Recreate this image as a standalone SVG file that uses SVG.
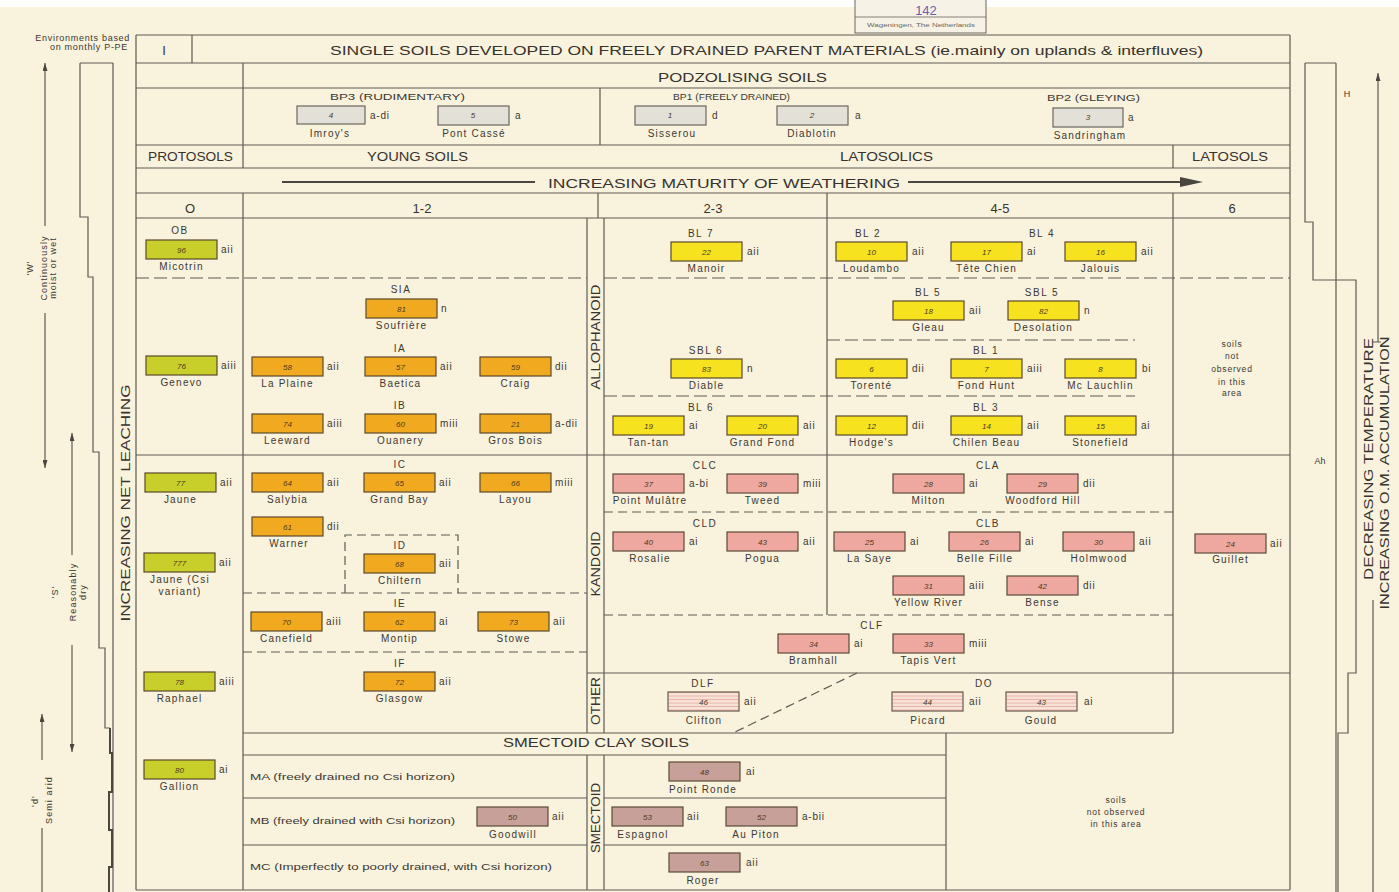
<svg xmlns="http://www.w3.org/2000/svg" width="1399" height="892" viewBox="0 0 1399 892">
<style>
.ln{stroke:#5e5a53;stroke-width:1.2;fill:none}
.th{stroke:#4a4640;stroke-width:2;fill:none}
.ds{stroke:#5e5a53;stroke-width:1.2;fill:none;stroke-dasharray:13 5}
.ds2{stroke:#5e5a53;stroke-width:1.2;fill:none;stroke-dasharray:9 5}
.t{font-family:"Liberation Sans",Arial,sans-serif;fill:#3c3833}
.hd{font-family:"Liberation Sans",Arial,sans-serif;fill:#37332e;font-size:13px}
.mid{text-anchor:middle}
.nm{font-family:"Liberation Sans",Arial,sans-serif;fill:#3c3833;font-size:10px;letter-spacing:1.2px;text-anchor:middle}
.gr{font-family:"Liberation Sans",Arial,sans-serif;fill:#3c3833;font-size:10px;letter-spacing:0.8px}
.gl{font-family:"Liberation Sans",Arial,sans-serif;fill:#3c3833;font-size:10px;letter-spacing:1.5px;text-anchor:middle}
.nb{font-family:"Liberation Sans",Arial,sans-serif;fill:#4a3a22;font-size:8px;font-style:italic;text-anchor:middle}
.sm{font-family:"Liberation Sans",Arial,sans-serif;fill:#3c3833;font-size:8.5px;letter-spacing:0.8px}
.sn{font-family:"Liberation Sans",Arial,sans-serif;fill:#3c3833;font-size:9px;letter-spacing:1.1px;text-anchor:middle}
.bo{fill:#c8cf2a;stroke:#5a4a2a;stroke-width:1.2}
.bor{fill:#f1aa20;stroke:#5a4a2a;stroke-width:1.2}
.by{fill:#f7e21f;stroke:#5a4a2a;stroke-width:1.2}
.bk{fill:#efa8a0;stroke:#5a4a3a;stroke-width:1.2}
.bs{fill:#c7a09a;stroke:#5a4a3a;stroke-width:1.2}
.bp{fill:#e3e0d8;stroke:#6a665e;stroke-width:1.2}
.bt{fill:url(#stripe);stroke:#6a5a50;stroke-width:1.2}
</style>
<defs>
<pattern id="stripe" width="6" height="3.5" patternUnits="userSpaceOnUse">
<rect width="6" height="3.5" fill="#f8e2d8"/>
<line x1="0" y1="3" x2="6" y2="3" stroke="#e3a598" stroke-width="0.8"/>
</pattern>
<marker id="ah" viewBox="0 0 8 5" refX="8" refY="2.5" markerWidth="8" markerHeight="5" orient="auto" markerUnits="userSpaceOnUse">
<path d="M0,0 L8,2.5 L0,5 z" fill="#4a4640"/>
</marker>
</defs>
<rect width="1399" height="892" fill="#f9f2dc"/>
<rect width="1399" height="7" fill="#ffffff"/>

<g id="stamp">
<rect x="855" y="-2" width="131" height="35" fill="#f7f2e6" stroke="#6a665e" stroke-width="1"/>
<line x1="855" y1="17" x2="986" y2="17" stroke="#6a665e" stroke-width="0.8"/>
<text x="926" y="15" font-family="Liberation Sans,Arial,sans-serif" font-size="13" fill="#6a5fb0" text-anchor="middle">142</text>
<text x="867" y="27" font-family="Liberation Sans,Arial,sans-serif" font-size="6" fill="#6a665e" textLength="108" lengthAdjust="spacingAndGlyphs">Wageningen, The Netherlands</text>
</g>

<g id="frame">
<path class="ln" d="M136,35 H1290 M136,63 H1290 M136,88 H1290 M136,145 H1290 M136,168 H1290 M136,193 H1290 M136,218 H1290 M136,455 H1290 M136,890 H1290"/>
<path class="ln" d="M136,35 V890 M1290,35 V890 M192,35 V63 M243,63 V168 M243,193 V890 M600,88 V145 M1173,145 V168 M1173,193 V733 M598,193 V218 M827,193 V615"/>
<path class="ln" d="M587,218 V733 M604,218 V733 M587,755 V890 M604,755 V890"/>
<path class="ln" d="M587,673 H1290 M243,733 H1173 M243,755 H946 M243,798 H587 M604,798 H946 M243,845 H587 M604,845 H946 M946,733 V890"/>
</g>

<g id="partitions">
<path class="ds" d="M136,278 H587 M604,278 H1290 M827,340 H1135 M604,396 H1135"/>
<path class="ds2" d="M604,512 H1173 M604,615 H1173 M243,593 H345 M458,593 H587 M243,652 H587"/>
<path class="ds2" d="M345,593 V535 H458 V593 M345,593 H458"/>
<path class="ds2" d="M857,673 L733,733"/>
</g>

<g id="headers">
<text class="hd" x="164" y="55" font-size="14" text-anchor="middle">I</text>
<text class="hd" x="330" y="55" font-size="16" textLength="873" lengthAdjust="spacingAndGlyphs">SINGLE SOILS DEVELOPED ON FREELY DRAINED PARENT MATERIALS (ie.mainly on uplands &amp; interfluves)</text>
<text class="hd" x="658" y="82" textLength="169" lengthAdjust="spacingAndGlyphs">PODZOLISING  SOILS</text>
<text class="t" x="330" y="100" font-size="9" textLength="135" lengthAdjust="spacingAndGlyphs">BP3 (RUDIMENTARY)</text>
<text class="t" x="673" y="100" font-size="9" textLength="117" lengthAdjust="spacingAndGlyphs">BP1 (FREELY DRAINED)</text>
<text class="t" x="1047" y="101" font-size="9" textLength="93" lengthAdjust="spacingAndGlyphs">BP2 (GLEYING)</text>
<text class="hd" x="148" y="161" textLength="85" lengthAdjust="spacingAndGlyphs">PROTOSOLS</text>
<text class="hd" x="367" y="161" textLength="101" lengthAdjust="spacingAndGlyphs">YOUNG SOILS</text>
<text class="hd" x="840" y="161" textLength="93" lengthAdjust="spacingAndGlyphs">LATOSOLICS</text>
<text class="hd" x="1192" y="161" textLength="76" lengthAdjust="spacingAndGlyphs">LATOSOLS</text>
<text class="hd" x="548" y="188" font-size="14" textLength="352" lengthAdjust="spacingAndGlyphs">INCREASING  MATURITY  OF  WEATHERING</text>
<text class="hd mid" x="190" y="213">O</text>
<text class="hd mid" x="422" y="213">1-2</text>
<text class="hd mid" x="713" y="213">2-3</text>
<text class="hd mid" x="1000" y="213">4-5</text>
<text class="hd mid" x="1232" y="213">6</text>
<text class="hd mid" transform="translate(600,337) rotate(-90)" font-size="11" textLength="105" lengthAdjust="spacingAndGlyphs">ALLOPHANOID</text>
<text class="hd mid" transform="translate(600,564) rotate(-90)" font-size="11" textLength="65" lengthAdjust="spacingAndGlyphs">KANDOID</text>
<text class="hd mid" transform="translate(600,701) rotate(-90)" font-size="11" textLength="48" lengthAdjust="spacingAndGlyphs">OTHER</text>
<text class="hd mid" transform="translate(600,818) rotate(-90)" font-size="11" textLength="70" lengthAdjust="spacingAndGlyphs">SMECTOID</text>
<text class="hd mid" x="596" y="747" textLength="186" lengthAdjust="spacingAndGlyphs">SMECTOID  CLAY  SOILS</text>
<text class="t" x="250" y="780" font-size="9.5" textLength="205" lengthAdjust="spacingAndGlyphs">MA (freely drained no Csi horizon)</text>
<text class="t" x="250" y="824" font-size="9.5" textLength="205" lengthAdjust="spacingAndGlyphs">MB (freely drained with Csi horizon)</text>
<text class="t" x="250" y="870" font-size="9.5" textLength="302" lengthAdjust="spacingAndGlyphs">MC (Imperfectly to poorly drained, with Csi horizon)</text>
<text class="sm mid" x="1232" y="347">soils</text>
<text class="sm mid" x="1232" y="359">not</text>
<text class="sm mid" x="1232" y="372">observed</text>
<text class="sm mid" x="1232" y="385">in this</text>
<text class="sm mid" x="1232" y="396">area</text>
<text class="sm mid" x="1116" y="803">soils</text>
<text class="sm mid" x="1116" y="815">not observed</text>
<text class="sm mid" x="1116" y="827">in this area</text>
</g>

<g id="left-scale">
<text class="t" x="130" y="41" font-size="9" letter-spacing="0.7" text-anchor="end">Environments based</text>
<text class="t" x="128" y="50" font-size="9" letter-spacing="0.7" text-anchor="end">on monthly P-PE</text>
<path class="ln" d="M80,63 H113 M113,63 V892"/>
<path class="ln" d="M80,63 V217 H88 V277 H93 V452 H99 V648 H105 V728 H110"/>
<path class="th" d="M110,728 V753 H112 V792 H109 V830 H112 V867 H109 V892"/>
<text class="hd mid" transform="translate(130,503) rotate(-90)" textLength="237" lengthAdjust="spacingAndGlyphs">INCREASING  NET  LEACHING</text>
<line class="ln" x1="45" y1="226" x2="45" y2="63" marker-end="url(#ah)"/>
<line class="ln" x1="45" y1="313" x2="45" y2="468" marker-end="url(#ah)"/>
<text class="sn" transform="translate(33,268) rotate(-90)">'W'</text>
<text class="sn" transform="translate(47,268) rotate(-90)">Continuously</text>
<text class="sn" transform="translate(56,268) rotate(-90)">moist or wet</text>
<line class="ln" x1="72" y1="555" x2="72" y2="433" marker-end="url(#ah)"/>
<line class="ln" x1="72" y1="645" x2="72" y2="752" marker-end="url(#ah)"/>
<text class="sn" transform="translate(58,592) rotate(-90)">'S'</text>
<text class="sn" transform="translate(76,592) rotate(-90)">Reasonably</text>
<text class="sn" transform="translate(86,592) rotate(-90)">dry</text>
<line class="ln" x1="42" y1="760" x2="42" y2="714" marker-end="url(#ah)"/>
<line class="ln" x1="42" y1="828" x2="42" y2="892"/>
<text class="sn" transform="translate(38,801) rotate(-90)">'d'</text>
<text class="sn" transform="translate(52,800) rotate(-90)">Semi arid</text>
</g>

<g id="right-scale">
<path class="ln" d="M1305,63 H1336 M1336,63 V892"/>
<path class="ln" d="M1305,63 V222 H1313 V280 H1356 V673 H1348 V733 H1338 V892"/>
<line class="ln" x1="1378" y1="342" x2="1378" y2="73" marker-end="url(#ah)"/>
<path class="ln" d="M1373,342 H1381 M1373,600 V892"/>
<text x="1347" y="97" font-family="Liberation Sans,Arial,sans-serif" font-size="9" fill="#3c3833" text-anchor="middle">H</text>
<text x="1320" y="464" font-family="Liberation Sans,Arial,sans-serif" font-size="9" fill="#3c3833" text-anchor="middle">Ah</text>
<text class="hd mid" transform="translate(1373,459) rotate(-90)" font-size="12" textLength="242" lengthAdjust="spacingAndGlyphs">DECREASING  TEMPERATURE</text>
<text class="hd mid" transform="translate(1389,473) rotate(-90)" font-size="12" textLength="273" lengthAdjust="spacingAndGlyphs">INCREASING  O.M.  ACCUMULATION</text>
</g>

<g id="connectors">
<line class="th" x1="282" y1="182" x2="535" y2="182" stroke-width="3"/>
<line class="th" x1="908" y1="182" x2="1182" y2="182" stroke-width="3"/>
<polygon points="1180,177 1203,182 1180,187" fill="#4a4640"/>
</g>

<g id="group-labels">
<text class="gl" x="180" y="234">OB</text>
<text class="gl" x="401" y="293">SIA</text>
<text class="gl" x="400" y="352">IA</text>
<text class="gl" x="400" y="409">IB</text>
<text class="gl" x="400" y="468">IC</text>
<text class="gl" x="400" y="549">ID</text>
<text class="gl" x="400" y="607">IE</text>
<text class="gl" x="400" y="667">IF</text>
<text class="gl" x="701" y="237">BL 7</text>
<text class="gl" x="868" y="237">BL 2</text>
<text class="gl" x="1042" y="237">BL 4</text>
<text class="gl" x="928" y="296">BL 5</text>
<text class="gl" x="1042" y="296">SBL 5</text>
<text class="gl" x="706" y="354">SBL 6</text>
<text class="gl" x="986" y="354">BL 1</text>
<text class="gl" x="701" y="411">BL 6</text>
<text class="gl" x="986" y="411">BL 3</text>
<text class="gl" x="705" y="469">CLC</text>
<text class="gl" x="988" y="469">CLA</text>
<text class="gl" x="705" y="527">CLD</text>
<text class="gl" x="988" y="527">CLB</text>
<text class="gl" x="872" y="629">CLF</text>
<text class="gl" x="703" y="687">DLF</text>
<text class="gl" x="984" y="687">DO</text>
</g>

<g id="podzol-nodes">
<g id="n4"><rect class="bp" x="297" y="106" width="68" height="18"/><text class="nb" x="331" y="118">4</text><text class="gr" x="370" y="119">a-di</text><text class="nm" x="330" y="137">Imroy's</text></g>
<g id="n5"><rect class="bp" x="438" y="106" width="71" height="19"/><text class="nb" x="473" y="118">5</text><text class="gr" x="515" y="119">a</text><text class="nm" x="474" y="137">Pont Cassé</text></g>
<g id="n1"><rect class="bp" x="635" y="106" width="71" height="19"/><text class="nb" x="670" y="118">1</text><text class="gr" x="712" y="119">d</text><text class="nm" x="672" y="137">Sisserou</text></g>
<g id="n2"><rect class="bp" x="777" y="106" width="71" height="19"/><text class="nb" x="812" y="118">2</text><text class="gr" x="855" y="119">a</text><text class="nm" x="812" y="137">Diablotin</text></g>
<g id="n3"><rect class="bp" x="1053" y="108" width="70" height="19"/><text class="nb" x="1088" y="120">3</text><text class="gr" x="1128" y="121">a</text><text class="nm" x="1090" y="139">Sandringham</text></g>
</g>

<g id="protosol-nodes">
<g id="n96"><rect class="bo" x="146" y="240" width="71" height="19"/><text class="nb" x="181.5" y="252.5">96</text><text class="gr" x="221" y="253">aii</text><text class="nm" x="181.5" y="270">Micotrin</text></g>
<g id="n76"><rect class="bo" x="146" y="356" width="71" height="19"/><text class="nb" x="181.5" y="368.5">76</text><text class="gr" x="221" y="369">aiii</text><text class="nm" x="181.5" y="386">Genevo</text></g>
<g id="n77"><rect class="bo" x="145" y="473" width="71" height="19"/><text class="nb" x="180.5" y="485.5">77</text><text class="gr" x="220" y="486">aii</text><text class="nm" x="180.5" y="503">Jaune</text></g>
<g id="n777"><rect class="bo" x="144" y="553" width="71" height="19"/><text class="nb" x="179.5" y="565.5">777</text><text class="gr" x="219" y="566">aii</text><text class="nm" x="180" y="583">Jaune (Csi</text><text class="nm" x="180" y="595">variant)</text></g>
<g id="n78"><rect class="bo" x="144" y="672" width="71" height="19"/><text class="nb" x="179.5" y="684.5">78</text><text class="gr" x="219" y="685">aiii</text><text class="nm" x="179.5" y="702">Raphael</text></g>
<g id="n80"><rect class="bo" x="144" y="760" width="71" height="19"/><text class="nb" x="179.5" y="772.5">80</text><text class="gr" x="219" y="773">ai</text><text class="nm" x="179.5" y="790">Gallion</text></g>
</g>

<g id="young-nodes">
<g id="n81"><rect class="bor" x="366" y="299" width="71" height="19"/><text class="nb" x="401.5" y="311.5">81</text><text class="gr" x="441" y="312">n</text><text class="nm" x="401.5" y="329">Soufrière</text></g>
<g id="n58"><rect class="bor" x="252" y="357" width="71" height="19"/><text class="nb" x="287.5" y="369.5">58</text><text class="gr" x="327" y="370">aii</text><text class="nm" x="287.5" y="387">La Plaine</text></g>
<g id="n57"><rect class="bor" x="365" y="357" width="71" height="19"/><text class="nb" x="400.5" y="369.5">57</text><text class="gr" x="440" y="370">aii</text><text class="nm" x="400.5" y="387">Baetica</text></g>
<g id="n59"><rect class="bor" x="480" y="357" width="71" height="19"/><text class="nb" x="515.5" y="369.5">59</text><text class="gr" x="555" y="370">dii</text><text class="nm" x="515.5" y="387">Craig</text></g>
<g id="n74"><rect class="bor" x="252" y="414" width="71" height="19"/><text class="nb" x="287.5" y="426.5">74</text><text class="gr" x="327" y="427">aiii</text><text class="nm" x="287.5" y="444">Leeward</text></g>
<g id="n60"><rect class="bor" x="365" y="414" width="71" height="19"/><text class="nb" x="400.5" y="426.5">60</text><text class="gr" x="440" y="427">miii</text><text class="nm" x="400.5" y="444">Ouanery</text></g>
<g id="n21"><rect class="bor" x="480" y="414" width="71" height="19"/><text class="nb" x="515.5" y="426.5">21</text><text class="gr" x="555" y="427">a-dii</text><text class="nm" x="515.5" y="444">Gros Bois</text></g>
<g id="n64"><rect class="bor" x="252" y="473" width="71" height="19"/><text class="nb" x="287.5" y="485.5">64</text><text class="gr" x="327" y="486">aii</text><text class="nm" x="287.5" y="503">Salybia</text></g>
<g id="n65"><rect class="bor" x="364" y="473" width="71" height="19"/><text class="nb" x="399.5" y="485.5">65</text><text class="gr" x="439" y="486">aii</text><text class="nm" x="399.5" y="503">Grand Bay</text></g>
<g id="n66"><rect class="bor" x="480" y="473" width="71" height="19"/><text class="nb" x="515.5" y="485.5">66</text><text class="gr" x="555" y="486">miii</text><text class="nm" x="515.5" y="503">Layou</text></g>
<g id="n61"><rect class="bor" x="252" y="517" width="71" height="19"/><text class="nb" x="287.5" y="529.5">61</text><text class="gr" x="327" y="530">dii</text><text class="nm" x="289" y="547">Warner</text></g>
<g id="n68"><rect class="bor" x="364" y="554" width="71" height="19"/><text class="nb" x="399.5" y="566.5">68</text><text class="gr" x="439" y="567">aii</text><text class="nm" x="400" y="584">Chiltern</text></g>
<g id="n70"><rect class="bor" x="251" y="612" width="71" height="19"/><text class="nb" x="286.5" y="624.5">70</text><text class="gr" x="326" y="625">aiii</text><text class="nm" x="286.5" y="642">Canefield</text></g>
<g id="n62"><rect class="bor" x="364" y="612" width="71" height="19"/><text class="nb" x="399.5" y="624.5">62</text><text class="gr" x="439" y="625">ai</text><text class="nm" x="399.5" y="642">Montip</text></g>
<g id="n73"><rect class="bor" x="478" y="612" width="71" height="19"/><text class="nb" x="513.5" y="624.5">73</text><text class="gr" x="553" y="625">aii</text><text class="nm" x="513.5" y="642">Stowe</text></g>
<g id="n72"><rect class="bor" x="364" y="672" width="71" height="19"/><text class="nb" x="399.5" y="684.5">72</text><text class="gr" x="439" y="685">aii</text><text class="nm" x="399.5" y="702">Glasgow</text></g>
</g>

<g id="allophanoid-nodes">
<g id="n22"><rect class="by" x="671" y="242" width="71" height="19"/><text class="nb" x="706.5" y="254.5">22</text><text class="gr" x="747" y="255">aii</text><text class="nm" x="706.5" y="272">Manoir</text></g>
<g id="n10"><rect class="by" x="836" y="242" width="71" height="19"/><text class="nb" x="871.5" y="254.5">10</text><text class="gr" x="912" y="255">aii</text><text class="nm" x="871.5" y="272">Loudambo</text></g>
<g id="n17"><rect class="by" x="951" y="242" width="71" height="19"/><text class="nb" x="986.5" y="254.5">17</text><text class="gr" x="1027" y="255">ai</text><text class="nm" x="986.5" y="272">Tête Chien</text></g>
<g id="n16"><rect class="by" x="1065" y="242" width="71" height="19"/><text class="nb" x="1100.5" y="254.5">16</text><text class="gr" x="1141" y="255">aii</text><text class="nm" x="1100.5" y="272">Jalouis</text></g>
<g id="n18"><rect class="by" x="893" y="301" width="71" height="19"/><text class="nb" x="928.5" y="313.5">18</text><text class="gr" x="969" y="314">aii</text><text class="nm" x="928.5" y="331">Gleau</text></g>
<g id="n82"><rect class="by" x="1008" y="301" width="71" height="19"/><text class="nb" x="1043.5" y="313.5">82</text><text class="gr" x="1084" y="314">n</text><text class="nm" x="1043.5" y="331">Desolation</text></g>
<g id="n83"><rect class="by" x="671" y="359" width="71" height="19"/><text class="nb" x="706.5" y="371.5">83</text><text class="gr" x="747" y="372">n</text><text class="nm" x="706.5" y="389">Diable</text></g>
<g id="n6"><rect class="by" x="836" y="359" width="71" height="19"/><text class="nb" x="871.5" y="371.5">6</text><text class="gr" x="912" y="372">dii</text><text class="nm" x="871.5" y="389">Torenté</text></g>
<g id="n7"><rect class="by" x="951" y="359" width="71" height="19"/><text class="nb" x="986.5" y="371.5">7</text><text class="gr" x="1027" y="372">aiii</text><text class="nm" x="986.5" y="389">Fond Hunt</text></g>
<g id="n8"><rect class="by" x="1065" y="359" width="71" height="19"/><text class="nb" x="1100.5" y="371.5">8</text><text class="gr" x="1142" y="372">bi</text><text class="nm" x="1100.5" y="389">Mc Lauchlin</text></g>
<g id="n19"><rect class="by" x="613" y="416" width="71" height="19"/><text class="nb" x="648.5" y="428.5">19</text><text class="gr" x="689" y="429">ai</text><text class="nm" x="648.5" y="446">Tan-tan</text></g>
<g id="n20"><rect class="by" x="727" y="416" width="71" height="19"/><text class="nb" x="762.5" y="428.5">20</text><text class="gr" x="803" y="429">aii</text><text class="nm" x="762.5" y="446">Grand Fond</text></g>
<g id="n12"><rect class="by" x="836" y="416" width="71" height="19"/><text class="nb" x="871.5" y="428.5">12</text><text class="gr" x="912" y="429">dii</text><text class="nm" x="871.5" y="446">Hodge's</text></g>
<g id="n14"><rect class="by" x="951" y="416" width="71" height="19"/><text class="nb" x="986.5" y="428.5">14</text><text class="gr" x="1027" y="429">aii</text><text class="nm" x="986.5" y="446">Chilen Beau</text></g>
<g id="n15"><rect class="by" x="1065" y="416" width="71" height="19"/><text class="nb" x="1100.5" y="428.5">15</text><text class="gr" x="1141" y="429">ai</text><text class="nm" x="1100.5" y="446">Stonefield</text></g>
</g>

<g id="kandoid-nodes">
<g id="n37"><rect class="bk" x="613" y="474" width="71" height="19"/><text class="nb" x="648.5" y="486.5">37</text><text class="gr" x="689" y="487">a-bi</text><text class="nm" x="650" y="504">Point Mulâtre</text></g>
<g id="n39"><rect class="bk" x="727" y="474" width="71" height="19"/><text class="nb" x="762.5" y="486.5">39</text><text class="gr" x="803" y="487">miii</text><text class="nm" x="762.5" y="504">Tweed</text></g>
<g id="n28"><rect class="bk" x="893" y="474" width="71" height="19"/><text class="nb" x="928.5" y="486.5">28</text><text class="gr" x="969" y="487">ai</text><text class="nm" x="928.5" y="504">Milton</text></g>
<g id="n29"><rect class="bk" x="1007" y="474" width="71" height="19"/><text class="nb" x="1042.5" y="486.5">29</text><text class="gr" x="1083" y="487">dii</text><text class="nm" x="1043" y="504">Woodford Hill</text></g>
<g id="n40"><rect class="bk" x="613" y="532" width="71" height="19"/><text class="nb" x="648.5" y="544.5">40</text><text class="gr" x="689" y="545">ai</text><text class="nm" x="650" y="562">Rosalie</text></g>
<g id="n43"><rect class="bk" x="727" y="532" width="71" height="19"/><text class="nb" x="762.5" y="544.5">43</text><text class="gr" x="803" y="545">aii</text><text class="nm" x="762.5" y="562">Pogua</text></g>
<g id="n25"><rect class="bk" x="834" y="532" width="71" height="19"/><text class="nb" x="869.5" y="544.5">25</text><text class="gr" x="910" y="545">ai</text><text class="nm" x="869.5" y="562">La Saye</text></g>
<g id="n26"><rect class="bk" x="949" y="532" width="71" height="19"/><text class="nb" x="984.5" y="544.5">26</text><text class="gr" x="1025" y="545">ai</text><text class="nm" x="985" y="562">Belle Fille</text></g>
<g id="n30"><rect class="bk" x="1063" y="532" width="71" height="19"/><text class="nb" x="1098.5" y="544.5">30</text><text class="gr" x="1139" y="545">aii</text><text class="nm" x="1099" y="562">Holmwood</text></g>
<g id="n31"><rect class="bk" x="893" y="576" width="71" height="19"/><text class="nb" x="928.5" y="588.5">31</text><text class="gr" x="969" y="589">aiii</text><text class="nm" x="928.5" y="606">Yellow River</text></g>
<g id="n42"><rect class="bk" x="1007" y="576" width="71" height="19"/><text class="nb" x="1042.5" y="588.5">42</text><text class="gr" x="1083" y="589">dii</text><text class="nm" x="1042.5" y="606">Bense</text></g>
<g id="n34"><rect class="bk" x="778" y="634" width="71" height="19"/><text class="nb" x="813.5" y="646.5">34</text><text class="gr" x="854" y="647">ai</text><text class="nm" x="813.5" y="664">Bramhall</text></g>
<g id="n33"><rect class="bk" x="893" y="634" width="71" height="19"/><text class="nb" x="928.5" y="646.5">33</text><text class="gr" x="969" y="647">miii</text><text class="nm" x="928.5" y="664">Tapis Vert</text></g>
<g id="n24"><rect class="bk" x="1195" y="534" width="71" height="19"/><text class="nb" x="1230.5" y="546.5">24</text><text class="gr" x="1270" y="547">aii</text><text class="nm" x="1230.5" y="563">Guillet</text></g>
</g>

<g id="other-nodes">
<g id="n46"><rect class="bt" x="668" y="692" width="71" height="19"/><text class="nb" x="703.5" y="704.5">46</text><text class="gr" x="744" y="705">aii</text><text class="nm" x="704" y="724">Clifton</text></g>
<g id="n44"><rect class="bt" x="892" y="692" width="71" height="19"/><text class="nb" x="927.5" y="704.5">44</text><text class="gr" x="969" y="705">aii</text><text class="nm" x="928" y="724">Picard</text></g>
<g id="n43b"><rect class="bt" x="1006" y="692" width="71" height="19"/><text class="nb" x="1041.5" y="704.5">43</text><text class="gr" x="1084" y="705">ai</text><text class="nm" x="1041" y="724">Gould</text></g>
</g>

<g id="smectoid-nodes">
<g id="n48"><rect class="bs" x="669" y="762" width="71" height="19"/><text class="nb" x="704.5" y="774.5">48</text><text class="gr" x="746" y="775">ai</text><text class="nm" x="703" y="793">Point Ronde</text></g>
<g id="n50"><rect class="bs" x="477" y="807" width="71" height="19"/><text class="nb" x="512.5" y="819.5">50</text><text class="gr" x="552" y="820">aii</text><text class="nm" x="513" y="838">Goodwill</text></g>
<g id="n53"><rect class="bs" x="612" y="807" width="71" height="19"/><text class="nb" x="647.5" y="819.5">53</text><text class="gr" x="687" y="820">aii</text><text class="nm" x="643" y="838">Espagnol</text></g>
<g id="n52"><rect class="bs" x="726" y="807" width="71" height="19"/><text class="nb" x="761.5" y="819.5">52</text><text class="gr" x="802" y="820">a-bii</text><text class="nm" x="756" y="838">Au Piton</text></g>
<g id="n63"><rect class="bs" x="669" y="853" width="71" height="19"/><text class="nb" x="704.5" y="865.5">63</text><text class="gr" x="746" y="866">aii</text><text class="nm" x="703" y="884">Roger</text></g>
</g>
</svg>
